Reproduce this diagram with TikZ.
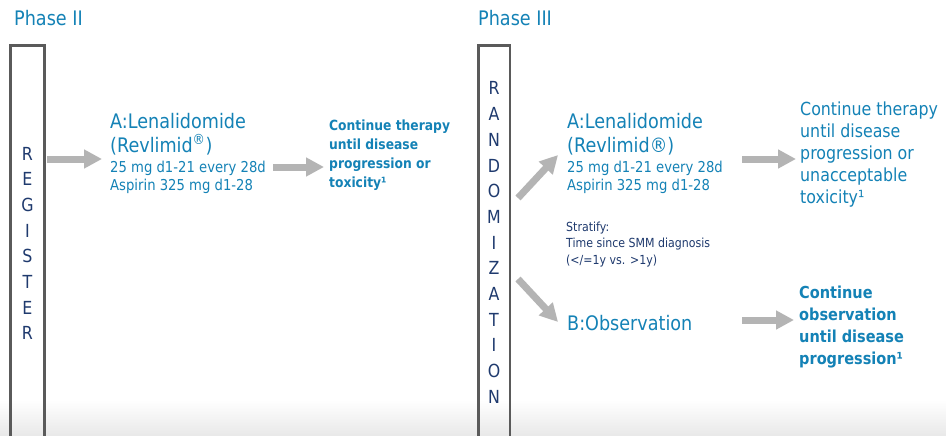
\documentclass[tikz,border=0pt]{standalone}
\usepackage{fontspec}
\setmainfont{DejaVu Sans}[FakeStretch=0.88]
\usetikzlibrary{arrows.meta}
\definecolor{teal1}{HTML}{1482B6}
\definecolor{navy1}{HTML}{1F3A6E}
\definecolor{boxgray}{HTML}{5A5A5A}
\definecolor{arrgray}{HTML}{B4B4B4}
\tikzset{
  arr/.style={draw=arrgray, line width=7pt, -{Triangle[length=18pt,width=18pt]}},
  ttl/.style={text=teal1, font=\fontsize{20}{24}\selectfont, inner sep=0pt},
  big/.style={text=teal1, font=\fontsize{20}{24}\selectfont, inner sep=0pt, align=left, anchor=north west},
  dose/.style={text=teal1, font=\fontsize{15}{18}\selectfont, inner sep=0pt, align=left, anchor=north west},
  letter/.style={text=navy1, font=\fontsize{18}{20}\selectfont, inner sep=0pt, anchor=base},
  vbox/.style={draw=boxgray, line width=2.5pt}
}
\begin{document}
\begin{tikzpicture}[x=1pt,y=-1pt]
\useasboundingbox (0,0) rectangle (946,436);
\clip (0,0) rectangle (946,436);
\fill[white] (0,0) rectangle (946,436);
\shade[top color=white, bottom color=black!9] (0,400) rectangle (946,436);

% titles
\node[ttl, anchor=base west] (ph2) at (14,26) {Phase II};
\node[ttl, anchor=base west] (ph3) at (478,26) {Phase III};

% vertical boxes
\draw[vbox] (10.5,445) |- (44.5,45.5) -- (44.5,445);
\draw[vbox] (478.5,445) |- (510,45.5) -- (510,445);

\foreach \l [count=\i] in {R,E,G,I,S,T,E,R}
  \node[letter] (reg\i) at (27.5,{160+25.7*(\i-1)}) {\l};
\foreach \l [count=\i] in {R,A,N,D,O,M,I,Z,A,T,I,O,N}
  \node[letter] (ran\i) at (494,{95+25.67*(\i-1)}) {\l};

% Phase II
\node[big] (a2t) at (110,113) {A:Lenalidomide\\(Revlimid\textsuperscript{®})};
\node[dose] (a2d) at (110,160.6) {25 mg d1-21 every 28d\\Aspirin 325 mg d1-28};
\node[text=teal1, font=\bfseries\fontsize{14}{19}\selectfont, inner sep=0pt, align=left, anchor=north west] (c2) at (329,119.4)
  {Continue therapy\\until disease\\progression or\\toxicity¹};

% Phase III
\node[big] (a3t) at (567,113) {A:Lenalidomide\\(Revlimid®)};
\node[dose] (a3d) at (567,160.6) {25 mg d1-21 every 28d\\Aspirin 325 mg d1-28};
\node[text=navy1, font=\fontsize{12.5}{16.5}\selectfont, inner sep=0pt, align=left, anchor=north west] (strat) at (566,221.5)
  {Stratify:\\Time since SMM diagnosis\\(</=1y vs. >1y)};
\node[ttl, anchor=base west] (b3) at (567,330) {B:Observation};
\node[text=teal1, font=\fontsize{18}{22}\selectfont, inner sep=0pt, align=left, anchor=north west] (c3) at (800,101.3)
  {Continue therapy\\until disease\\progression or\\unacceptable\\toxicity¹};
\node[text=teal1, font=\bfseries\fontsize{16.5}{22}\selectfont, inner sep=0pt, align=left, anchor=north west] (c4) at (799,285.5)
  {Continue\\observation\\until disease\\progression¹};

% arrow end points
\coordinate (a1s) at (47,159);  \coordinate (a1e) at (102,159);
\coordinate (a2s) at (273,167); \coordinate (a2e) at (324,167);
\coordinate (a3s) at (518,198); \coordinate (a3e) at (558,155);
\coordinate (a4s) at (518,279); \coordinate (a4e) at (558,322);
\coordinate (a5s) at (742,159); \coordinate (a5e) at (796,159);
\coordinate (a6s) at (742,320); \coordinate (a6e) at (794,320);
\draw[arr] (a1s) -- (a1e);
\draw[arr] (a2s) -- (a2e);
\draw[arr] (a3s) -- (a3e);
\draw[arr] (a4s) -- (a4e);
\draw[arr] (a5s) -- (a5e);
\draw[arr] (a6s) -- (a6e);
\end{tikzpicture}
\end{document}
